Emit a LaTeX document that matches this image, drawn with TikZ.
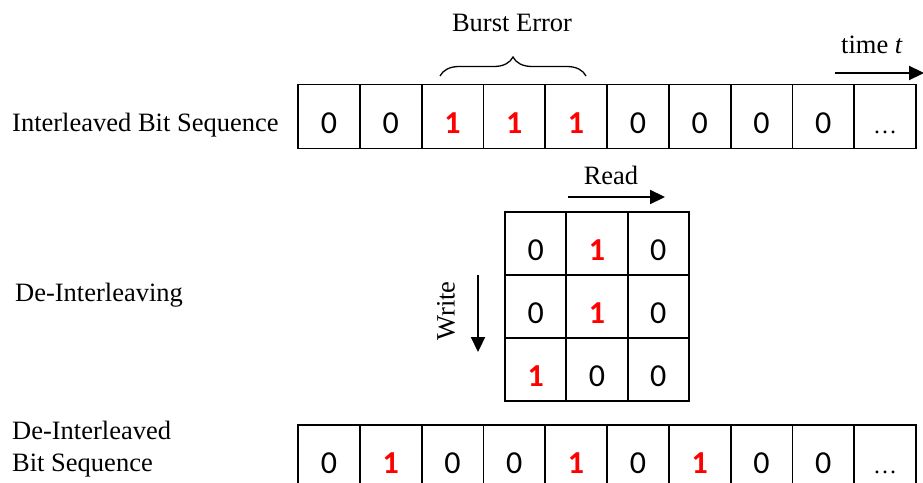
\documentclass[tikz,border=0pt]{standalone}
\usepackage{fontspec}
\setmainfont{Liberation Serif}
\newfontfamily\digitfont{Carlito}
\usetikzlibrary{arrows.meta,decorations.pathreplacing}
\definecolor{errred}{RGB}{255,0,0}
\newcommand{\celldots}{{\rmfamily\fontsize{24}{28}\selectfont\textellipsis}}
\tikzset{
  cell/.style={draw, line width=1.8pt, inner sep=0pt, minimum width=61.8pt, minimum height=64pt,
    text height=33pt, text depth=0pt, font=\digitfont\fontsize{32}{36}\selectfont},
  errcell/.style={cell, text=errred, font=\digitfont\bfseries\fontsize{32}{36}\selectfont},
  msize/.style={minimum width=61.3pt, minimum height=63pt},
  lbl/.style={font=\fontsize{26.5}{32}\selectfont, inner sep=0pt},
  flow/.style={line width=2.2pt, -{Triangle[length=15pt,width=14pt]}},
}
\begin{document}
\begin{tikzpicture}[x=1pt,y=-1pt]
\useasboundingbox (0,0) rectangle (923,482);
\clip (0,0) rectangle (923,482);

% interleaved sequence (top row)
\foreach \v/\s [count=\i] in {0/cell,0/cell,1/errcell,1/errcell,1/errcell,0/cell,0/cell,0/cell,0/cell,\celldots/cell}{
  \node[\s] (t\i) at ({298+61.8*(\i-0.5)},116.5) {\v};
}
\node[lbl, anchor=west] (ilab) at (12,125) {Interleaved Bit Sequence};

% burst error brace
\coordinate (bl) at (440,76);
\coordinate (br) at (586,76);
\draw[line width=1.3pt, decorate, decoration={brace, amplitude=19pt, aspect=0.5}] (bl) -- (br);
\node[lbl] (burst) at (512,23) {Burst Error};

% time arrow
\node[lbl] (time) at (872,45) {time \textit{t}};
\coordinate (ts) at (835,73);
\coordinate (te) at (924,73);
\draw[flow] (ts) -- (te);

% de-interleaving block (3x3)
\foreach \r [count=\j] in {{0/cell,1/errcell,0/cell},{0/cell,1/errcell,0/cell},{1/errcell,0/cell,0/cell}}{
  \foreach \v/\s [count=\i] in \r {
    \node[\s,msize] (m\j\i) at ({505+61.3*(\i-0.5)},{212+63*(\j-0.5)}) {\v};
  }
}
\node[lbl, anchor=west] (dlab) at (15,295) {De-Interleaving};

% read / write directions
\node[lbl] (read) at (611,175) {Read};
\coordinate (rs) at (568,197);
\coordinate (re) at (665,197);
\draw[flow] (rs) -- (re);
\node[lbl, rotate=90] (write) at (446,311) {Write};
\coordinate (ws) at (478,275);
\coordinate (we) at (478,352);
\draw[flow] (ws) -- (we);

% de-interleaved sequence (bottom row)
\foreach \v/\s [count=\i] in {0/cell,1/errcell,0/cell,0/cell,1/errcell,0/cell,1/errcell,0/cell,0/cell,\celldots/cell}{
  \node[\s] (b\i) at ({298+61.8*(\i-0.5)},457) {\v};
}
\node[lbl, anchor=west, align=left] (blab) at (12,449) {De-Interleaved\\Bit Sequence};
\end{tikzpicture}
\end{document}
